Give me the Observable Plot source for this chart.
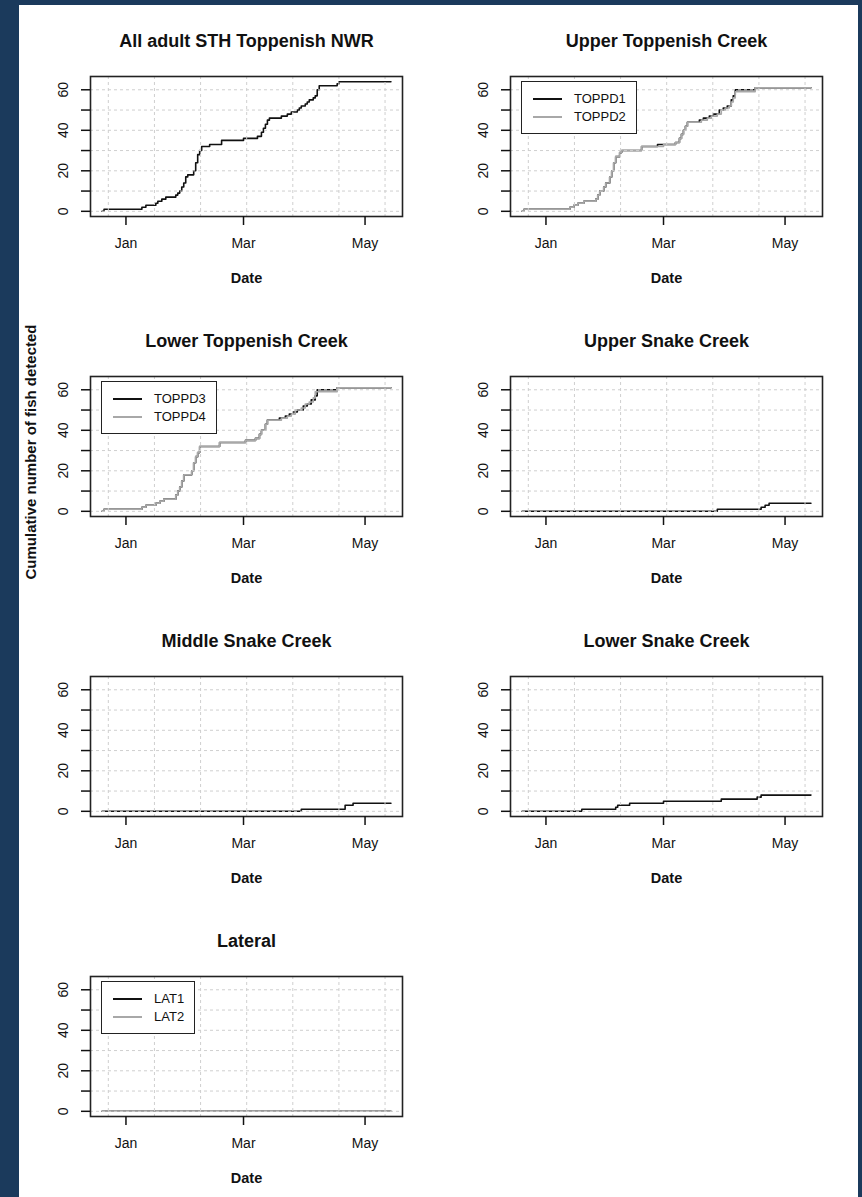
<!DOCTYPE html>
<html>
<head>
<meta charset="utf-8">
<script src="https://cdn.jsdelivr.net/npm/d3@7"></script>
<script src="https://cdn.jsdelivr.net/npm/@observablehq/plot@0.6"></script>
<style>
html,body{margin:0;padding:0;background:#1b3a5c;}
#page{position:relative;width:862px;height:1197px;overflow:hidden;font-family:"Liberation Sans",Arial,sans-serif;color:#111;}
#sheet{position:absolute;left:19px;top:5px;width:839px;height:1192px;background:#fff;}
.cell{position:absolute;width:420px;height:300px;}
.legend{position:absolute;border:1.5px solid #222;padding:8px 10px 7px 11px;background:#fff;font-size:13px;line-height:18px;}
.legend .row{display:flex;align-items:center;height:18px;}
.legend .sw{width:29px;height:0;border-top:2px solid;margin-right:12px;}
#ylab{position:absolute;left:30px;top:452px;transform:translate(-50%,-50%) rotate(-90deg);font-weight:bold;font-size:15px;white-space:nowrap;}
</style>
</head>
<body>
<div id="page">
  <div id="sheet"></div>
  <div id="ylab">Cumulative number of fish detected</div>
</div>
<script>
// ---------- tick labels / categories ----------
const monthTicks = ["2018-01-01", "2018-03-01", "2018-05-01"];
const yTicks = [0, 10, 20, 30, 40, 50, 60];
const gridSeconds = [1514000000, 1516000000, 1518000000, 1520000000, 1522000000, 1524000000, 1526000000];
const panelTitles = ["All adult STH Toppenish NWR", "Upper Toppenish Creek", "Lower Toppenish Creek",
  "Upper Snake Creek", "Middle Snake Creek", "Lower Snake Creek", "Lateral"];
const legendLabels = [null, ["TOPPD1", "TOPPD2"], ["TOPPD3", "TOPPD4"], null, null, null, ["LAT1", "LAT2"]];

// ---------- series values (cumulative counts, step after each date) ----------
const allDates = ["2017-12-20","2017-12-21","2018-01-09","2018-01-11","2018-01-16","2018-01-17","2018-01-19","2018-01-21",
  "2018-01-26","2018-01-27","2018-01-28","2018-01-29","2018-01-30","2018-01-31","2018-02-01","2018-02-04","2018-02-05",
  "2018-02-06","2018-02-07","2018-02-08","2018-02-12","2018-02-18","2018-03-01","2018-03-08","2018-03-10","2018-03-11",
  "2018-03-12","2018-03-13","2018-03-14","2018-03-20","2018-03-23","2018-03-25","2018-03-28","2018-03-29","2018-03-30",
  "2018-04-01","2018-04-02","2018-04-03","2018-04-05","2018-04-06","2018-04-07","2018-04-08","2018-04-17","2018-04-18","2018-05-14"];
const allCounts = [0,1,2,3,4,5,6,7,8,9,10,12,14,17,18,20,24,28,30,32,33,35,36,37,39,41,43,45,46,47,48,49,50,51,52,53,54,55,56,57,60,62,63,64,64];

const toppd1Dates = ["2017-12-20","2017-12-21","2018-01-13","2018-01-15","2018-01-17","2018-01-20","2018-01-26","2018-01-27",
  "2018-01-28","2018-01-30","2018-01-31","2018-02-02","2018-02-03","2018-02-04","2018-02-05","2018-02-07","2018-02-08",
  "2018-02-18","2018-02-26","2018-03-07","2018-03-09","2018-03-10","2018-03-11","2018-03-12","2018-03-13","2018-03-19",
  "2018-03-21","2018-03-24","2018-03-26","2018-03-29","2018-03-31","2018-04-02","2018-04-04","2018-04-05","2018-04-06",
  "2018-04-16","2018-05-14"];
const toppd1Counts = [0,1,2,3,4,5,6,8,10,12,14,17,20,24,27,29,30,32,33,34,36,38,40,42,44,45,46,47,48,50,51,52,55,57,60,61,61];

const toppd2Dates = ["2017-12-20","2017-12-21","2018-01-13","2018-01-15","2018-01-17","2018-01-20","2018-01-26","2018-01-27",
  "2018-01-28","2018-01-30","2018-01-31","2018-02-02","2018-02-03","2018-02-04","2018-02-05","2018-02-07","2018-02-08",
  "2018-02-18","2018-03-01","2018-03-07","2018-03-09","2018-03-10","2018-03-11","2018-03-12","2018-03-13","2018-03-20",
  "2018-03-23","2018-03-25","2018-03-28","2018-03-30","2018-04-01","2018-04-03","2018-04-04","2018-04-05","2018-04-06",
  "2018-04-16","2018-05-14"];
const toppd2Counts = [0,1,2,3,4,5,6,8,10,12,14,17,20,24,27,29,30,32,33,34,36,38,40,42,44,45,46,47,48,50,51,52,54,56,59,61,61];

const toppd3Dates = ["2017-12-20","2017-12-21","2018-01-09","2018-01-11","2018-01-16","2018-01-18","2018-01-20","2018-01-26",
  "2018-01-27","2018-01-28","2018-01-29","2018-01-30","2018-02-03","2018-02-04","2018-02-05","2018-02-06","2018-02-07",
  "2018-02-17","2018-03-02","2018-03-07","2018-03-09","2018-03-10","2018-03-12","2018-03-13","2018-03-19","2018-03-22",
  "2018-03-24","2018-03-26","2018-03-28","2018-03-31","2018-04-02","2018-04-04","2018-04-06","2018-04-07","2018-04-17","2018-05-14"];
const toppd3Counts = [0,1,2,3,4,5,6,8,10,12,15,18,20,24,27,29,32,34,35,36,38,40,43,45,46,47,48,49,50,52,53,55,57,60,61,61];

const toppd4Dates = ["2017-12-20","2017-12-21","2018-01-09","2018-01-11","2018-01-16","2018-01-18","2018-01-20","2018-01-26",
  "2018-01-27","2018-01-28","2018-01-29","2018-01-30","2018-02-03","2018-02-04","2018-02-05","2018-02-06","2018-02-07",
  "2018-02-17","2018-03-02","2018-03-07","2018-03-09","2018-03-10","2018-03-12","2018-03-13","2018-03-20","2018-03-23",
  "2018-03-25","2018-03-27","2018-03-30","2018-04-01","2018-04-03","2018-04-05","2018-04-06","2018-04-17","2018-05-14"];
const toppd4Counts = [0,1,2,3,4,5,6,8,10,12,15,18,20,24,27,29,32,34,35,36,38,40,43,45,46,47,48,50,51,53,54,56,59,61,61];

const upperSnakeDates = ["2017-12-20","2018-03-28","2018-04-19","2018-04-21","2018-04-23","2018-05-14"];
const upperSnakeCounts = [0,1,2,3,4,4];

const middleSnakeDates = ["2017-12-20","2018-03-30","2018-04-21","2018-04-25","2018-05-14"];
const middleSnakeCounts = [0,1,3,4,4];

const lowerSnakeDates = ["2017-12-20","2018-01-19","2018-02-05","2018-02-06","2018-02-12","2018-03-01","2018-03-30","2018-04-17","2018-04-19","2018-05-14"];
const lowerSnakeCounts = [0,1,2,3,4,5,6,7,8,8];

const lat1Dates = ["2017-12-20","2018-05-14"];
const lat1Counts = [0,0];
const lat2Dates = ["2017-12-20","2018-05-14"];
const lat2Counts = [0,0];

// ---------- build ----------
const BLACK = "#111", GRAY = "#a8a8a8";
const toRows = (dates, counts) => dates.map((d, i) => ({date: new Date(d), n: counts[i]}));
const panelSeries = [
  [{rows: toRows(allDates, allCounts), color: BLACK}],
  [{rows: toRows(toppd1Dates, toppd1Counts), color: BLACK}, {rows: toRows(toppd2Dates, toppd2Counts), color: GRAY}],
  [{rows: toRows(toppd3Dates, toppd3Counts), color: BLACK}, {rows: toRows(toppd4Dates, toppd4Counts), color: GRAY}],
  [{rows: toRows(upperSnakeDates, upperSnakeCounts), color: BLACK}],
  [{rows: toRows(middleSnakeDates, middleSnakeCounts), color: BLACK}],
  [{rows: toRows(lowerSnakeDates, lowerSnakeCounts), color: BLACK}],
  [{rows: toRows(lat1Dates, lat1Counts), color: BLACK}, {rows: toRows(lat2Dates, lat2Counts), color: GRAY}]
];

const everyRow = panelSeries.flat().flatMap(s => s.rows);
const xExt = d3.extent(everyRow, r => r.date.getTime());
const xPad = (xExt[1] - xExt[0]) * 0.04;
const xDomain = [new Date(xExt[0] - xPad), new Date(xExt[1] + xPad)];
const yExt = d3.extent(everyRow, r => r.n);
const yPad = (yExt[1] - yExt[0]) * 0.04;
const yDomain = [yExt[0] - yPad, yExt[1] + yPad];
const gridDates = gridSeconds.map(s => new Date(s * 1000));
const monthDates = monthTicks.map(d => new Date(d));

const page = document.getElementById("page");
const fmt = d3.utcFormat("%b");

panelTitles.forEach((title, i) => {
  const col = i % 2, row = Math.floor(i / 2);
  const cell = document.createElement("div");
  cell.className = "cell";
  cell.style.left = (col * 420) + "px";
  cell.style.top = (row * 300) + "px";

  const marks = [];
  panelSeries[i].forEach(s => marks.push(
    Plot.line(s.rows, {x: "date", y: "n", curve: "step-after", stroke: s.color, strokeWidth: 1.6})
  ));
  marks.push(Plot.gridX(gridDates, {stroke: "#cfcfcf", strokeOpacity: 1, strokeWidth: 1, strokeDasharray: "3,3"}));
  marks.push(Plot.gridY(yTicks, {stroke: "#cfcfcf", strokeOpacity: 1, strokeWidth: 1, strokeDasharray: "3,3"}));
  marks.push(Plot.frame({stroke: "#222", strokeWidth: 1.6}));
  marks.push(Plot.axisX(monthDates, {anchor: "bottom", tickSize: 9, tickPadding: 13, tickFormat: d => fmt(d), fontSize: 14, label: null, strokeWidth: 1.5}));
  marks.push(Plot.axisY(yTicks, {anchor: "left", tickSize: 9, tickPadding: 14, tickRotate: -90, tickFormat: d => d % 20 === 0 ? String(d) : "", fontSize: 14, label: null, strokeWidth: 1.5}));
  marks.push(Plot.text([title], {text: d => d, frameAnchor: "top", dy: -42, fontSize: 18, fontWeight: "bold"}));
  marks.push(Plot.text(["Date"], {text: d => d, frameAnchor: "bottom", dy: 66, fontSize: 14.5, fontWeight: "bold"}));

  const svg = Plot.plot({
    width: 420, height: 300,
    marginLeft: 90, marginRight: 18, marginTop: 76, marginBottom: 84,
    x: {type: "utc", domain: xDomain},
    y: {domain: yDomain},
    style: {background: "transparent", overflow: "visible", fontFamily: "'Liberation Sans', Arial, sans-serif", color: "#111"},
    marks
  });
  cell.appendChild(svg);

  if (legendLabels[i]) {
    const lg = document.createElement("div");
    lg.className = "legend";
    lg.style.left = (90 + 11) + "px";
    lg.style.top = (76 + 5) + "px";
    legendLabels[i].forEach((lab, k) => {
      const r = document.createElement("div");
      r.className = "row";
      const sw = document.createElement("span");
      sw.className = "sw";
      sw.style.borderTopColor = panelSeries[i][k].color;
      const tx = document.createElement("span");
      tx.textContent = lab;
      r.appendChild(sw); r.appendChild(tx);
      lg.appendChild(r);
    });
    cell.appendChild(lg);
  }
  page.appendChild(cell);
});
</script>
</body>
</html>
